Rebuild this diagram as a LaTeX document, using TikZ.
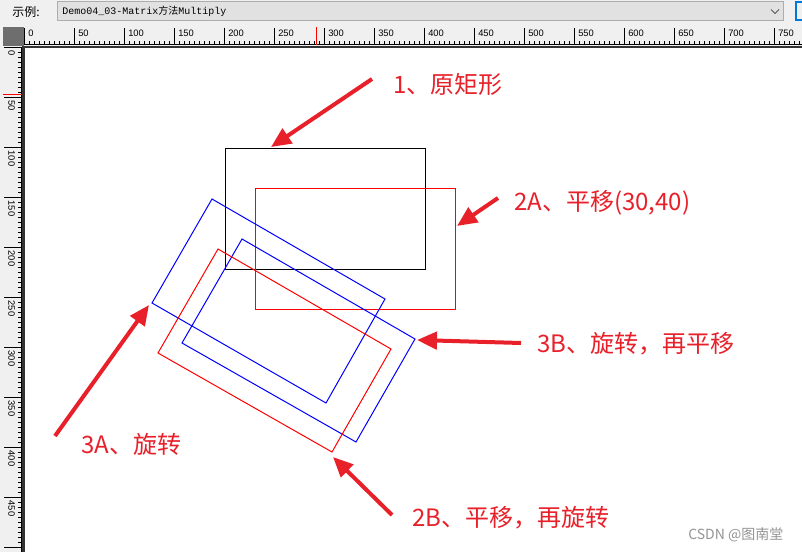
\documentclass[tikz,border=0pt]{standalone}
\usepackage{fontspec}
\setmainfont{Liberation Sans}
\newfontfamily\cjkfont{Noto Sans CJK SC}
\newfontfamily\monofont{Liberation Mono}
\usepackage{xcolor}
\usetikzlibrary{arrows.meta}

\definecolor{winbg}{HTML}{F0F0F0}
\definecolor{combofill}{HTML}{E1E1E1}
\definecolor{comboline}{HTML}{ADADAD}
\definecolor{markred}{HTML}{E8202A}
\definecolor{focusblue}{HTML}{0078D7}

\begin{document}
\begin{tikzpicture}[
    x=0.75pt, y=-0.75pt,
    outline/.style={line width=0.75pt},
    callout/.style={-{Triangle[length=15pt,width=13pt]}, line width=3pt, draw=markred},
    note/.style={font=\cjkfont\fontsize{18}{18}\selectfont, text=markred, anchor=west, inner sep=0pt},
    rulertick/.style={line width=0.75pt, draw=black},
    rulernum/.style={font=\fontsize{7}{7}\selectfont, inner sep=0pt, anchor=west}
]
\useasboundingbox (0,0) rectangle (802,552);

% Window and combo box
\fill[winbg] (0,0) rectangle (802,552);
\node[font=\cjkfont\fontsize{9}{9}\selectfont, anchor=west, inner sep=0pt] (caption) at (12,12) {示例:};
\draw[comboline, fill=combofill, line width=0.75pt] (57.5,2) rectangle (783.5,20.5);
\node[anchor=west, inner sep=0pt, font=\fontsize{7.5}{7.5}\selectfont] (demo) at (62,11)
    {{\monofont Demo04\_03-Matrix}{\cjkfont 方法}{\monofont Multiply}};
\draw[line width=0.75pt, draw=black!65] (771,9.5) -- (775,13.5) -- (779,9.5);
\draw[focusblue, line width=1.5pt] (803,2.5) -- (796,2.5) -- (796,20) -- (803,20);

% Rulers
\fill[black!57] (3,27) rectangle (24,46);
\fill[black!80] (24,46) rectangle (802,48.5);
\fill[black!80] (22,46) rectangle (24.5,552);
\draw[rulertick] (24,45) -- (802,45);
\draw[rulertick] (21.5,48.5) -- (21.5,552);
\foreach \u in {0,5,...,780}
    \draw[rulertick] ({24.5+\u},41.5) -- ({24.5+\u},45);
\foreach \u in {0,50,...,750} {
    \draw[rulertick] ({24.5+\u},28) -- ({24.5+\u},45);
    \node[rulernum] (top\u) at ({28+\u},33) {\u};
}
\foreach \u in {0,5,...,505}
    \draw[rulertick] (18,{47.5+\u}) -- (21.5,{47.5+\u});
\foreach \u in {0,50,...,500}
    \draw[rulertick] (4,{47.5+\u}) -- (21.5,{47.5+\u});
\foreach \u in {0,50,...,450}
    \node[rulernum, rotate=-90] (left\u) at (11.5,{50.5+\u}) {\u};
\draw[red, line width=0.75pt] (316,27) -- (316,45);
\draw[red, line width=0.75pt] (3,95) -- (21.5,95);

% Canvas
\fill[white] (24.5,48.5) rectangle (802,552);

% Rectangles
\draw[outline, black] (225,149) rectangle (425,269);
\draw[outline, red] (255,189) rectangle (455,309);
\draw[outline, blue] (212,199) -- (385,299) -- (326,403) -- (152,303) -- cycle;
\draw[outline, blue] (242,239) -- (415,339) -- (356,442) -- (182,343) -- cycle;
\draw[outline, red] (218,249) -- (391,349) -- (332,452) -- (158,353) -- cycle;

% Labels
\node[note] (orig) at (393,84) {1、原矩形};
\node[note] (move) at (514,203) {2A、平移(30,40)};
\node[note] (turnmove) at (537,344) {3B、旋转，再平移};
\node[note] (turn) at (81,444) {3A、旋转};
\node[note] (moveturn) at (412,518) {2B、平移，再旋转};
\node[font=\cjkfont\fontsize{10.5}{10.5}\selectfont, text=black!42, anchor=west, inner sep=0pt] (mark) at (688,535) {CSDN @图南堂};

% Arrow ends
\coordinate (origTail) at (372,79);
\coordinate (origTip) at (271,147);
\coordinate (moveTail) at (498,198);
\coordinate (moveTip) at (457,226);
\coordinate (turnmoveTail) at (521,343);
\coordinate (turnmoveTip) at (417,340);
\coordinate (turnTail) at (55,436);
\coordinate (turnTip) at (149,305);
\coordinate (moveturnTail) at (392,515);
\coordinate (moveturnTip) at (333,457);

\draw[callout] (origTail) -- (origTip);
\draw[callout] (moveTail) -- (moveTip);
\draw[callout] (turnmoveTail) -- (turnmoveTip);
\draw[callout] (turnTail) -- (turnTip);
\draw[callout] (moveturnTail) -- (moveturnTip);

\end{tikzpicture}
\end{document}
